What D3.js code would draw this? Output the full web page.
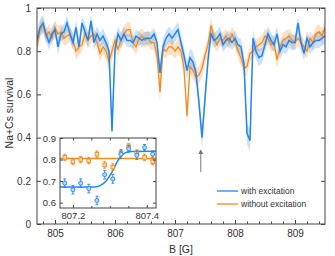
<!DOCTYPE html>
<html>
<head>
<meta charset="utf-8">
<script src="https://cdn.jsdelivr.net/npm/d3@7"></script>
<style>
  body { margin: 0; background: #fff; }
  text { font-family: "Liberation Sans", Arial, sans-serif; fill: #333; }
</style>
</head>
<body>
<script>
/*==================== DATA ====================*/
// magnetic field scan (G)
var field = [
  804.70, 804.75, 804.80, 804.85, 804.90, 804.95, 805.00, 805.05, 805.10, 805.15,
  805.20, 805.25, 805.30, 805.35, 805.40, 805.45, 805.50, 805.55, 805.60, 805.65,
  805.70, 805.75, 805.80, 805.85, 805.90, 805.95, 806.00, 806.05, 806.10, 806.15,
  806.20, 806.25, 806.30, 806.35, 806.40, 806.45, 806.50, 806.55, 806.60, 806.65,
  806.70, 806.75, 806.80, 806.85, 806.90, 806.95, 807.00, 807.05, 807.10, 807.15,
  807.20, 807.25, 807.30, 807.35, 807.40, 807.45, 807.50, 807.55, 807.60, 807.65,
  807.70, 807.75, 807.80, 807.85, 807.90, 807.95, 808.00, 808.05, 808.10, 808.15,
  808.20, 808.25, 808.30, 808.35, 808.40, 808.45, 808.50, 808.55, 808.60, 808.65,
  808.70, 808.75, 808.80, 808.85, 808.90, 808.95, 809.00, 809.05, 809.10, 809.15,
  809.20, 809.25, 809.30, 809.35, 809.40, 809.45, 809.50
];
// survival with excitation
var withExc = [
  0.85, 0.91, 0.93, 0.88, 0.84, 0.88, 0.90, 0.82, 0.88, 0.89,
  0.93, 0.88, 0.84, 0.91, 0.82, 0.93, 0.89, 0.85, 0.94, 0.84,
  0.88, 0.85, 0.87, 0.84, 0.80, 0.43, 0.81, 0.88, 0.85, 0.88,
  0.85, 0.85, 0.84, 0.87, 0.86, 0.85, 0.86, 0.86, 0.86, 0.88,
  0.84, 0.70, 0.82, 0.86, 0.88, 0.86, 0.88, 0.90, 0.84, 0.78,
  0.71, 0.77, 0.75, 0.70, 0.56, 0.40, 0.58, 0.76, 0.88, 0.85,
  0.86, 0.88, 0.83, 0.85, 0.86, 0.84, 0.86, 0.83, 0.82, 0.74,
  0.42, 0.385, 0.86, 0.80, 0.77, 0.78, 0.83, 0.88, 0.85, 0.83,
  0.88, 0.80, 0.83, 0.82, 0.85, 0.84, 0.84, 0.93, 0.84, 0.79,
  0.86, 0.82, 0.84, 0.85, 0.85, 0.86, 0.87
];
var withErr = [
  0.04, 0.04, 0.04, 0.035, 0.035, 0.035, 0.035, 0.035, 0.035, 0.035,
  0.035, 0.035, 0.035, 0.035, 0.035, 0.035, 0.035, 0.035, 0.035, 0.035,
  0.035, 0.035, 0.035, 0.035, 0.04, 0.05, 0.04, 0.035, 0.035, 0.035,
  0.03, 0.03, 0.03, 0.03, 0.03, 0.03, 0.03, 0.03, 0.03, 0.03,
  0.035, 0.04, 0.035, 0.035, 0.035, 0.035, 0.035, 0.035, 0.035, 0.04,
  0.04, 0.045, 0.045, 0.045, 0.05, 0.05, 0.05, 0.045, 0.035, 0.035,
  0.035, 0.035, 0.035, 0.035, 0.035, 0.035, 0.035, 0.035, 0.035, 0.04,
  0.05, 0.05, 0.04, 0.04, 0.04, 0.035, 0.035, 0.035, 0.035, 0.035,
  0.035, 0.035, 0.035, 0.035, 0.035, 0.035, 0.035, 0.035, 0.035, 0.035,
  0.035, 0.035, 0.035, 0.035, 0.035, 0.035, 0.035
];
// survival without excitation
var withoutExc = [
  0.82, 0.90, 0.92, 0.87, 0.89, 0.86, 0.91, 0.88, 0.89, 0.86,
  0.87, 0.88, 0.85, 0.80, 0.82, 0.83, 0.88, 0.85, 0.87, 0.88,
  0.84, 0.79, 0.82, 0.80, 0.75, 0.80, 0.85, 0.81, 0.85, 0.88,
  0.90, 0.90, 0.84, 0.82, 0.86, 0.87, 0.85, 0.86, 0.84, 0.84,
  0.78, 0.61, 0.81, 0.80, 0.82, 0.82, 0.80, 0.82, 0.80, 0.72,
  0.50, 0.73, 0.71, 0.68, 0.69, 0.72, 0.78, 0.83, 0.92, 0.86,
  0.83, 0.86, 0.85, 0.87, 0.84, 0.88, 0.85, 0.80, 0.77, 0.72,
  0.73, 0.79, 0.80, 0.82, 0.83, 0.84, 0.87, 0.86, 0.83, 0.84,
  0.76, 0.82, 0.85, 0.86, 0.87, 0.85, 0.84, 0.86, 0.84, 0.82,
  0.80, 0.86, 0.84, 0.88, 0.89, 0.87, 0.91
];
var withoutErr = [
  0.035, 0.035, 0.035, 0.035, 0.035, 0.035, 0.035, 0.035, 0.035, 0.035,
  0.035, 0.035, 0.035, 0.04, 0.035, 0.035, 0.035, 0.035, 0.035, 0.035,
  0.035, 0.04, 0.035, 0.04, 0.05, 0.04, 0.035, 0.035, 0.035, 0.035,
  0.035, 0.035, 0.035, 0.035, 0.035, 0.035, 0.035, 0.035, 0.035, 0.035,
  0.04, 0.045, 0.035, 0.035, 0.035, 0.035, 0.035, 0.035, 0.035, 0.04,
  0.04, 0.04, 0.04, 0.04, 0.04, 0.04, 0.04, 0.035, 0.035, 0.035,
  0.035, 0.035, 0.035, 0.035, 0.035, 0.035, 0.035, 0.035, 0.035, 0.04,
  0.04, 0.035, 0.035, 0.035, 0.035, 0.035, 0.035, 0.035, 0.035, 0.035,
  0.04, 0.035, 0.035, 0.035, 0.035, 0.035, 0.035, 0.035, 0.035, 0.035,
  0.035, 0.035, 0.035, 0.035, 0.035, 0.035, 0.035
];
var xTicks = [805, 806, 807, 808, 809];
var yTicks = [0, 0.2, 0.4, 0.6, 0.8, 1];
var arrowField = 807.43;

// inset: zoom around 807.3 G
var insetField = [807.178, 807.2, 807.221, 807.243, 807.265, 807.286, 807.308, 807.33, 807.351, 807.373, 807.394, 807.416];
var insetWith = [0.69, 0.66, 0.69, 0.665, 0.61, 0.73, 0.71, 0.825, 0.85, 0.82, 0.855, 0.825];
var insetWithErr = [0.02, 0.02, 0.02, 0.02, 0.02, 0.02, 0.02, 0.02, 0.015, 0.02, 0.015, 0.015];
var insetWithout = [0.81, 0.79, 0.80, 0.795, 0.825, 0.775, 0.765, 0.83, 0.86, 0.83, 0.81, 0.79];
var insetWithoutErr = [0.015, 0.015, 0.015, 0.015, 0.015, 0.015, 0.015, 0.015, 0.015, 0.015, 0.015, 0.015];
var fitField = [807.165, 807.26, 807.275, 807.29, 807.30, 807.31, 807.32, 807.33, 807.34, 807.355, 807.425];
var fitWith = [0.672, 0.673, 0.68, 0.70, 0.725, 0.755, 0.79, 0.815, 0.83, 0.837, 0.838];
var fitWithoutField = [807.165, 807.425];
var fitWithout = [0.805, 0.805];
var insetXTicks = [807.2, 807.4];
var insetYTicks = [0.6, 0.7, 0.8, 0.9];

var blue = "#2185f2", orange = "#f5891c";

/*==================== SVG ====================*/
var width = 335, height = 256;
var mLeft = 37, mRight = 325, mTop = 8, mBottom = 224;

var svg = d3.select("body").append("svg")
    .attr("width", width)
    .attr("height", height);

var x = d3.scaleLinear().domain([804.7, 809.5]).range([mLeft, mRight]);
var y = d3.scaleLinear().domain([0, 1]).range([mBottom, mTop]);

var rows = field.map(function(b, i) {
  return { b: b, w: withExc[i], we: withErr[i], o: withoutExc[i], oe: withoutErr[i] };
});

svg.append("clipPath").attr("id", "clip")
  .append("rect").attr("x", mLeft).attr("y", mTop)
  .attr("width", mRight - mLeft).attr("height", mBottom - mTop);

var plot = svg.append("g").attr("clip-path", "url(#clip)");

// bands
plot.append("path").datum(rows)
  .attr("fill", orange).attr("fill-opacity", 0.25)
  .attr("d", d3.area().x(function(d) { return x(d.b); })
    .y0(function(d) { return y(d.o - d.oe); })
    .y1(function(d) { return y(d.o + d.oe); }));

plot.append("path").datum(rows)
  .attr("fill", blue).attr("fill-opacity", 0.24)
  .attr("d", d3.area().x(function(d) { return x(d.b); })
    .y0(function(d) { return y(d.w - d.we); })
    .y1(function(d) { return y(d.w + d.we); }));

// lines
plot.append("path").datum(rows)
  .attr("fill", "none").attr("stroke", orange).attr("stroke-width", 1.3)
  .attr("d", d3.line().x(function(d) { return x(d.b); }).y(function(d) { return y(d.o); }));

plot.append("path").datum(rows)
  .attr("fill", "none").attr("stroke", blue).attr("stroke-width", 1.5)
  .attr("d", d3.line().x(function(d) { return x(d.b); }).y(function(d) { return y(d.w); }));

/*==================== AXES ====================*/
var minorX = d3.range(804.8, 809.5, 0.2);
var axisColor = "#444";

var addAxis = function(axis, tx, ty, size) {
  var g = svg.append("g").attr("transform", "translate(" + tx + "," + ty + ")").call(axis);
  g.select(".domain").remove();
  g.selectAll("line").attr("stroke", axisColor);
  g.selectAll("text").attr("font-size", size || 10).attr("fill", "#333")
    .style("font-family", "Liberation Sans, Arial, sans-serif");
  return g;
};

addAxis(d3.axisBottom(x).tickValues(xTicks).tickFormat(d3.format("d")).tickSize(-4).tickPadding(6), 0, mBottom);
addAxis(d3.axisBottom(x).tickValues(minorX).tickFormat("").tickSize(-2.5), 0, mBottom);
addAxis(d3.axisTop(x).tickValues(xTicks).tickFormat("").tickSize(-4), 0, mTop);
addAxis(d3.axisTop(x).tickValues(minorX).tickFormat("").tickSize(-2.5), 0, mTop);
addAxis(d3.axisLeft(y).tickValues(yTicks).tickFormat(function(d) { return d === 0 || d === 1 ? d : d.toFixed(1); }).tickSize(-4).tickPadding(6), mLeft, 0);
addAxis(d3.axisRight(y).tickValues(yTicks).tickFormat("").tickSize(-4), mRight, 0);

svg.append("rect")
  .attr("x", mLeft).attr("y", mTop)
  .attr("width", mRight - mLeft).attr("height", mBottom - mTop)
  .attr("fill", "none").attr("stroke", axisColor).attr("stroke-width", 1);

svg.append("text")
  .attr("x", (mLeft + mRight) / 2).attr("y", 253)
  .attr("text-anchor", "middle").attr("font-size", 10.5)
  .text("B [G]");

svg.append("text")
  .attr("transform", "translate(13," + ((mTop + mBottom) / 2 - 3) + ") rotate(-90)")
  .attr("text-anchor", "middle").attr("font-size", 10.5)
  .text("Na+Cs survival");

// arrow
var ax = x(arrowField);
svg.append("defs").append("marker")
  .attr("id", "head").attr("viewBox", "0 0 10 10")
  .attr("refX", 5).attr("refY", 5)
  .attr("markerWidth", 5).attr("markerHeight", 6)
  .attr("orient", "auto")
  .append("path").attr("d", "M0,0 L10,5 L0,10 Z").attr("fill", "#777");
svg.append("line")
  .attr("x1", ax).attr("x2", ax)
  .attr("y1", y(0.24)).attr("y2", y(0.335))
  .attr("stroke", "#777").attr("stroke-width", 1)
  .attr("marker-end", "url(#head)");

/*==================== LEGEND ====================*/
var legend = [["with excitation", blue], ["without excitation", orange]];
legend.forEach(function(l, i) {
  var ly = 191 + i * 13;
  svg.append("line").attr("x1", 217).attr("x2", 238).attr("y1", ly).attr("y2", ly)
    .attr("stroke", l[1]).attr("stroke-width", 1.3);
  svg.append("text").attr("x", 241).attr("y", ly + 3).attr("font-size", 8.5).text(l[0]);
});

/*==================== INSET ====================*/
var il = 60, ir = 156, it = 138, ib = 208;
var ix = d3.scaleLinear().domain([807.165, 807.425]).range([il, ir]);
var iy = d3.scaleLinear().domain([0.575, 0.9]).range([ib, it]);

svg.append("rect").attr("x", il).attr("y", it)
  .attr("width", ir - il).attr("height", ib - it).attr("fill", "#fff");

var inset = svg.append("g");

var fitLine = d3.line().x(function(d) { return ix(d[0]); }).y(function(d) { return iy(d[1]); });
inset.append("path").datum(d3.zip(fitWithoutField, fitWithout))
  .attr("fill", "none").attr("stroke", orange).attr("stroke-width", 1.5).attr("d", fitLine);
inset.append("path").datum(d3.zip(fitField, fitWith))
  .attr("fill", "none").attr("stroke", blue).attr("stroke-width", 1.5)
  .attr("d", fitLine.curve(d3.curveMonotoneX));

var drawPoints = function(vals, errs, color, square) {
  var g = inset.append("g");
  insetField.forEach(function(b, i) {
    var px = ix(b);
    g.append("line").attr("x1", px).attr("x2", px)
      .attr("y1", iy(vals[i] - errs[i])).attr("y2", iy(vals[i] + errs[i]))
      .attr("stroke", color).attr("stroke-width", 0.9);
    [vals[i] - errs[i], vals[i] + errs[i]].forEach(function(v) {
      g.append("line").attr("x1", px - 1.5).attr("x2", px + 1.5)
        .attr("y1", iy(v)).attr("y2", iy(v))
        .attr("stroke", color).attr("stroke-width", 0.9);
    });
    if (square) {
      g.append("rect").attr("x", px - 1.8).attr("y", iy(vals[i]) - 1.8)
        .attr("width", 3.6).attr("height", 3.6)
        .attr("fill", "#fdd9b0").attr("stroke", color).attr("stroke-width", 0.9);
    } else {
      g.append("circle").attr("cx", px).attr("cy", iy(vals[i])).attr("r", 2)
        .attr("fill", "#b9d8fa").attr("stroke", color).attr("stroke-width", 0.9);
    }
  });
};
drawPoints(insetWithout, insetWithoutErr, orange, true);
drawPoints(insetWith, insetWithErr, blue, false);

var iMinor = [807.25, 807.3, 807.35];
addAxis(d3.axisBottom(ix).tickValues(insetXTicks).tickFormat(d3.format(".1f")).tickSize(-3).tickPadding(4), 0, ib, 9.5);
addAxis(d3.axisBottom(ix).tickValues(iMinor).tickFormat("").tickSize(-2), 0, ib);
addAxis(d3.axisTop(ix).tickValues(insetXTicks.concat(iMinor)).tickFormat("").tickSize(-2.5), 0, it);
addAxis(d3.axisLeft(iy).tickValues(insetYTicks).tickFormat(d3.format(".1f")).tickSize(-3).tickPadding(4), il, 0, 9.5);
addAxis(d3.axisRight(iy).tickValues(insetYTicks).tickFormat("").tickSize(-3), ir, 0);

svg.append("rect").attr("x", il).attr("y", it)
  .attr("width", ir - il).attr("height", ib - it)
  .attr("fill", "none").attr("stroke", axisColor).attr("stroke-width", 1);
</script>
</body>
</html>
